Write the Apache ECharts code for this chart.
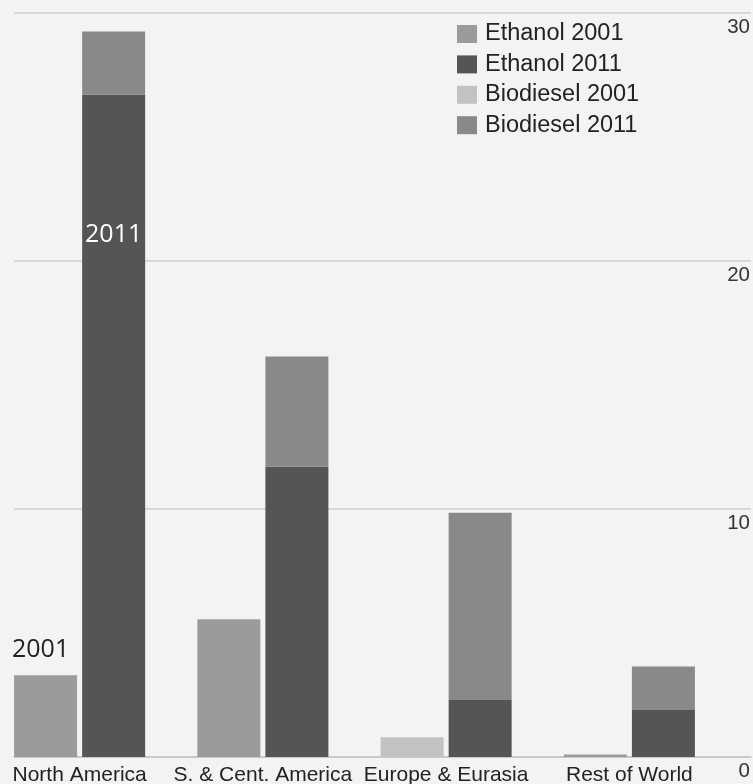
<!DOCTYPE html>
<html>
<head>
<meta charset="utf-8">
<script src="https://cdn.jsdelivr.net/npm/echarts@6/dist/echarts.min.js"></script>
<style>
html,body{margin:0;padding:0;background:#f3f3f3;}
#chart{width:753px;height:784px;}
</style>
</head>
<body>
<div id="chart"></div>
<script>
var categories = ['North America', 'S. & Cent. America', 'Europe & Eurasia', 'Rest of World'];
var ethanol2001 = [3.3, 5.55, 0, 0.1];
var biodiesel2001 = [0, 0, 0.8, 0];
var ethanol2011 = [26.7, 11.7, 2.3, 1.9];
var biodiesel2011 = [2.55, 4.45, 7.55, 1.75];
var yTicks = [0, 10, 20, 30];

var chart = echarts.init(document.getElementById('chart'), null, {renderer: 'canvas'});

var font = '"Liberation Sans", Arial, sans-serif';

var e01 = ethanol2001.map(function (v, i) {
  if (i === 0) {
    return {value: v, label: {show: true, position: 'top', distance: 13, offset: [-5, 0],
      formatter: '2001', fontSize: 25, color: '#222', fontFamily: '"Open Sans", sans-serif'}};
  }
  return v;
});
var e11 = ethanol2011.map(function (v, i) {
  if (i === 0) {
    return {value: v, label: {show: true, position: ['50%', 128], align: 'center', verticalAlign: 'top',
      formatter: '2011', fontSize: 25, color: '#ffffff', fontFamily: '"Open Sans", sans-serif'}};
  }
  return v;
});

var option = {
  animation: false,
  backgroundColor: '#f3f3f3',
  legend: {
    orient: 'vertical',
    left: 452,
    top: 17,
    itemWidth: 20,
    itemHeight: 18,
    itemGap: 6.4,
    icon: 'rect',
    textStyle: {fontSize: 23.5, color: '#222', fontFamily: font, lineHeight: 22, padding: [0, 0, 0, 3]},
    data: ['Ethanol 2001', 'Ethanol 2011', 'Biodiesel 2001', 'Biodiesel 2011']
  },
  grid: [
    {left: -12, width: 733, top: 13, bottom: 27, containLabel: false, outerBoundsMode: 'none'},
    {left: 14, right: 2, top: 13, bottom: 27, containLabel: false, outerBoundsMode: 'none'}
  ],
  xAxis: [
    {
      type: 'category', gridIndex: 0, data: categories,
      axisLine: {show: false}, axisTick: {show: false},
      axisLabel: {fontSize: 21, color: '#222', fontFamily: font, margin: 8, interval: 0}
    },
    {
      type: 'category', gridIndex: 1, data: [''],
      axisLine: {show: true, lineStyle: {color: '#c4c4c4', width: 1.5}},
      axisTick: {show: false}, axisLabel: {show: false}
    }
  ],
  yAxis: [
    {
      type: 'value', gridIndex: 0, min: 0, max: 30, interval: 10,
      show: false, splitLine: {show: false}
    },
    {
      type: 'value', gridIndex: 1, min: 0, max: 30, interval: 10, position: 'right',
      axisLine: {show: false}, axisTick: {show: false},
      splitLine: {show: true, lineStyle: {color: '#cfcfcf', width: 1.5}},
      axisLabel: {
        inside: true, margin: 1, verticalAlign: 'top', align: 'right',
        fontSize: 20.5, color: '#333', fontFamily: font, padding: [4, 0, 0, 0],
        formatter: function (v) { return yTicks.indexOf(v) >= 0 ? String(v) : ''; }
      }
    }
  ],
  series: [
    {name: 'Ethanol 2001', type: 'bar', stack: 'y2001', xAxisIndex: 0, yAxisIndex: 0,
      barWidth: 63, barGap: '8%', itemStyle: {color: '#9b9b9b'}, data: e01},
    {name: 'Ethanol 2011', type: 'bar', stack: 'y2011', xAxisIndex: 0, yAxisIndex: 0,
      barWidth: 63, barGap: '8%', itemStyle: {color: '#555555'}, data: e11},
    {name: 'Biodiesel 2001', type: 'bar', stack: 'y2001', xAxisIndex: 0, yAxisIndex: 0,
      barWidth: 63, barGap: '8%', itemStyle: {color: '#c2c2c2'}, data: biodiesel2001},
    {name: 'Biodiesel 2011', type: 'bar', stack: 'y2011', xAxisIndex: 0, yAxisIndex: 0,
      barWidth: 63, barGap: '8%', itemStyle: {color: '#898989'}, data: biodiesel2011}
  ]
};
chart.setOption(option);
</script>
</body>
</html>
